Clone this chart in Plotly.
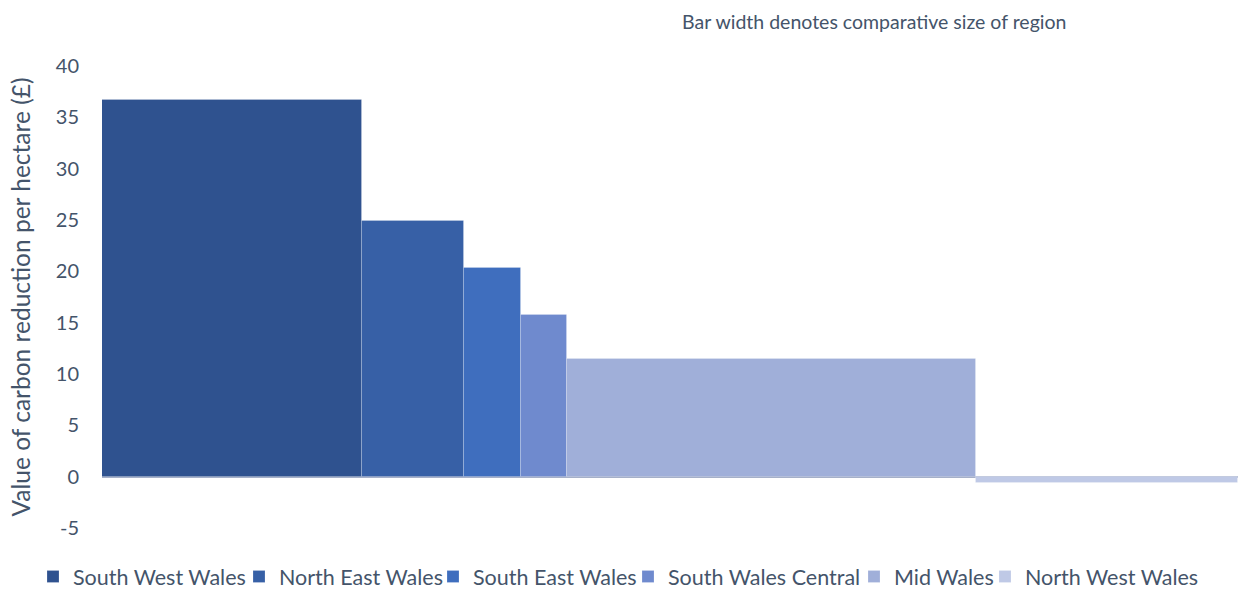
import plotly.graph_objects as go

regions = ["South West Wales", "North East Wales", "South East Wales",
           "South Wales Central", "Mid Wales", "North West Wales"]
values = [36.7, 24.9, 20.3, 15.7, 11.5, -0.6]
# relative land area of each region, used as the bar width
area = [260, 102, 57, 46, 409, 262]
colors = ["#2F528F", "#3760A6", "#3F6EBE", "#6F8ACE", "#A0AFD9", "#BFC9E6"]
y_ticks = [-5, 0, 5, 10, 15, 20, 25, 30, 35, 40]
y_tick_text = [str(v) for v in y_ticks]

text_color = "#44546A"
font_family = "Lato, 'Open Sans', sans-serif"

W, H = 1241, 591
M_L, M_R, M_T, M_B = 102, 3, 66, 63
plot_w = W - M_L - M_R
plot_h = H - M_T - M_B

# left pixel edge of each legend entry's label, laid out in one row
legend_text_px = [74, 280, 474, 669, 895, 1026]

fig = go.Figure()
left = 0
legend_layouts = {}
for i, (name, val, w, c) in enumerate(zip(regions, values, area, colors)):
    key = "legend" if i == 0 else f"legend{i + 1}"
    fig.add_trace(go.Bar(
        x=[left + w / 2], y=[val], width=[w], name=name, legend=key,
        marker=dict(color=c, line=dict(color="rgba(255,255,255,0.2)", width=1)),
        hovertemplate=f"{name}: %{{y}}<extra></extra>",
    ))
    left += w
    legend_layouts[key] = dict(
        orientation="h", xanchor="left", yanchor="top",
        x=(legend_text_px[i] - 41 - M_L) / plot_w, y=-28 / plot_h,
        font=dict(size=21.5, color=text_color), itemwidth=30,
        bgcolor="rgba(0,0,0,0)",
    )

fig.update_layout(
    width=W, height=H,
    margin=dict(l=M_L, r=M_R, t=M_T, b=M_B, autoexpand=False),
    paper_bgcolor="white", plot_bgcolor="white",
    font=dict(family=font_family, color=text_color),
    bargap=0,
    showlegend=True,
    xaxis=dict(range=[0, left], showticklabels=False, showgrid=False,
               zeroline=False, showline=False, fixedrange=True),
    yaxis=dict(range=[-5, 40], tickvals=y_ticks, ticktext=y_tick_text,
               showgrid=False, zeroline=True, zerolinecolor="#A6B0C8",
               zerolinewidth=1.5, showline=False, ticks="", ticklabelstandoff=22,
               tickfont=dict(size=20, color=text_color),
               title=dict(text="Value of carbon reduction per hectare (£)",
                          font=dict(size=24.5, color=text_color), standoff=18)),
    annotations=[dict(text="Bar width denotes comparative size of region",
                      xref="paper", yref="paper", x=0.680, y=1.0, yshift=45,
                      xanchor="center", yanchor="middle", showarrow=False,
                      font=dict(size=19.5, color=text_color))],
    **legend_layouts,
)

fig.write_html("out.html")
